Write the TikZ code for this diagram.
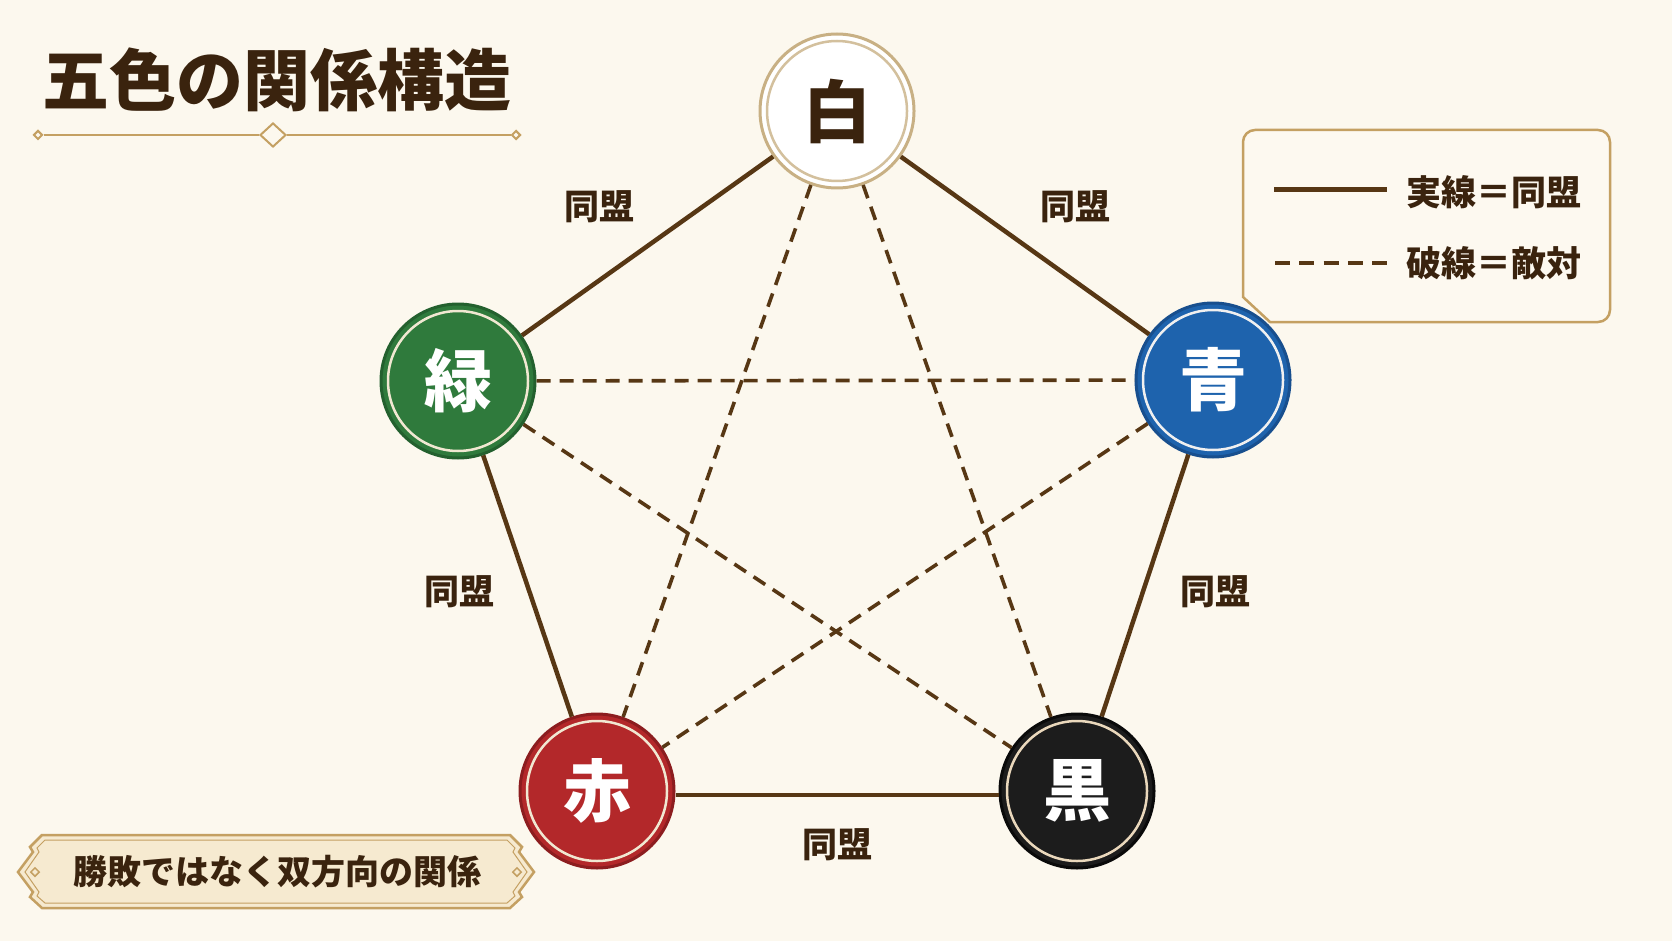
\documentclass[tikz,border=0pt]{standalone}
\usepackage{fontspec}
\setmainfont{Noto Sans CJK JP}
\usetikzlibrary{shapes.geometric}
\definecolor{bg}{HTML}{FCF8EE}
\definecolor{brownline}{HTML}{573714}
\definecolor{txtbrown}{HTML}{3A230E}
\definecolor{tan}{HTML}{C4A062}
\definecolor{tanring}{HTML}{C8B084}
\definecolor{bannerfill}{HTML}{F6EAD0}
\definecolor{legfill}{HTML}{FDF9F0}
\definecolor{gfill}{HTML}{2F7A3C}
\definecolor{gedge}{HTML}{23602E}
\definecolor{bfill}{HTML}{1E63AD}
\definecolor{bedge}{HTML}{184F8E}
\definecolor{rfill}{HTML}{B3282A}
\definecolor{redge}{HTML}{8C1D1F}
\definecolor{kfill}{HTML}{1C1C1C}
\definecolor{kedge}{HTML}{0A0A0A}
\definecolor{cream}{HTML}{F1E8D2}
\begin{document}
\begin{tikzpicture}[x=1pt,y=-1pt,
  cnode/.style={circle, minimum size=154pt, inner sep=0pt, line width=3pt,
    font=\fontsize{68}{68}\selectfont\bfseries},
  ringed/.style={path picture={\draw[#1, line width=2.5pt]
    (path picture bounding box.center) circle[radius=70pt];}},
  ally/.style={draw=brownline, line width=4.5pt},
  enemy/.style={draw=brownline, line width=3.6pt, dash pattern=on 14pt off 9pt},
  lab/.style={text=txtbrown, font=\fontsize{35}{35}\selectfont\bfseries, inner sep=0pt},
  legtext/.style={text=txtbrown, font=\fontsize{35}{35}\selectfont\bfseries, inner sep=0pt, anchor=west},
  orn/.style={diamond, draw=tan, fill=bg, line width=2pt, inner sep=0pt},
]
\fill[bg] (0,0) rectangle (1672,941);
\useasboundingbox (0,0) rectangle (1672,941);

% title
\node[text=txtbrown, font=\fontsize{67}{67}\selectfont\bfseries, inner sep=0pt] (title) at (277,80) {五色の関係構造};
\node[orn, minimum width=9pt, minimum height=9pt] (dl) at (38,135) {};
\node[orn, minimum width=26pt, minimum height=24pt] (dc) at (273,135) {};
\node[orn, minimum width=9pt, minimum height=9pt] (dr) at (516,135) {};
\draw[tan, line width=2pt] (dl) -- (dc);
\draw[tan, line width=2pt] (dc) -- (dr);

% legend box
\draw[tan, line width=2.5pt, fill=legfill] (1270,322) -- (1243,297)
  [rounded corners=12pt] -- (1243,130) -- (1610,130) -- (1610,322) [sharp corners] -- cycle;
\coordinate (ls1) at (1274,190);
\coordinate (ls2) at (1387,190);
\coordinate (ld1) at (1275,263);
\coordinate (ld2) at (1387,263);
\draw[draw=brownline, line width=5pt] (ls1) -- (ls2);
\draw[draw=brownline, line width=4pt, dash pattern=on 15pt off 9.25pt] (ld1) -- (ld2);
\node[legtext] (lt1) at (1406,192) {実線＝同盟};
\node[legtext] (lt2) at (1406,263) {破線＝敵対};

% banner
\draw[tan, line width=2.5pt, fill=bannerfill]
  (42,835) -- (510,835) -- (522,847) -- (519,852) -- (534,872) -- (519,892) -- (522,897) -- (510,908)
  -- (42,908) -- (30,897) -- (33,892) -- (18,872) -- (33,852) -- (30,847) -- cycle;
\draw[tan, line width=1pt]
  (45,840) -- (507,840) -- (515,848) -- (513,852) -- (527,872) -- (513,892) -- (515,896) -- (507,903)
  -- (45,903) -- (37,896) -- (39,892) -- (25,872) -- (39,852) -- (37,848) -- cycle;
\node[diamond, draw=tan, fill=bannerfill, line width=1.5pt, minimum width=9pt, minimum height=9pt, inner sep=0pt] (bdl) at (35,872) {};
\node[diamond, draw=tan, fill=bannerfill, line width=1.5pt, minimum width=9pt, minimum height=9pt, inner sep=0pt] (bdr) at (517,872) {};
\node[text=txtbrown, font=\fontsize{34}{34}\selectfont\bfseries, inner sep=0pt] (bn) at (277,872) {勝敗ではなく双方向の関係};

% nodes
\node[cnode, fill=white, draw=tanring, text=txtbrown, ringed={tanring!80, line width=1.5pt}] (shiro) at (837,111) {白};
\node[cnode, fill=gfill, draw=gedge, text=white, ringed=cream] (midori) at (458,381) {緑};
\node[cnode, fill=bfill, draw=bedge, text=white, ringed={white!88!gray}] (ao) at (1213,380) {青};
\node[cnode, fill=rfill, draw=redge, text=white, ringed=cream] (aka) at (597,791) {赤};
\node[cnode, fill=kfill, draw=kedge, text=white, ringed={cream!85!brown}] (kuro) at (1077,791) {黒};

% alliances
\draw[ally] (shiro) -- (midori);
\draw[ally] (shiro) -- (ao);
\draw[ally] (midori) -- (aka);
\draw[ally] (ao) -- (kuro);
\draw[ally] ([yshift=-4pt]aka.east) -- ([yshift=-4pt]kuro.west);

% enmities
\draw[enemy] (shiro) -- (aka);
\draw[enemy] (shiro) -- (kuro);
\draw[enemy] (midori) -- (ao);
\draw[enemy] (midori) -- (kuro);
\draw[enemy] (ao) -- (aka);

% labels
\node[lab] (l1) at (599,207) {同盟};
\node[lab] (l2) at (1075,207) {同盟};
\node[lab] (l3) at (459,592) {同盟};
\node[lab] (l4) at (1215,592) {同盟};
\node[lab] (l5) at (837,845) {同盟};
\end{tikzpicture}
\end{document}
